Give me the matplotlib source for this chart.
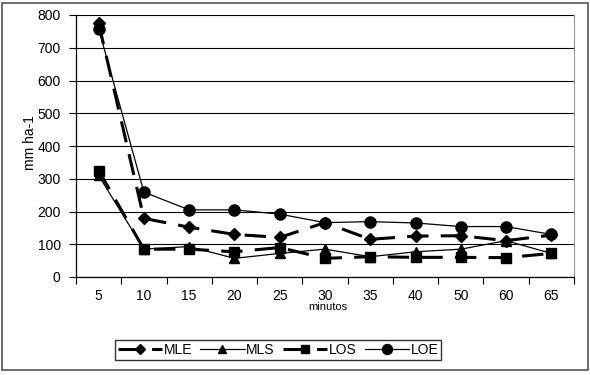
import matplotlib
matplotlib.use("Agg")
import matplotlib.pyplot as plt
from matplotlib.patches import Rectangle

categories = ["5", "10", "15", "20", "25", "30", "35", "40", "50", "60", "65"]
MLE = [775, 179, 152, 130, 121, 166, 115, 125, 126, 111, 128]
MLS = [310, 85, 93, 57, 72, 85, 62, 77, 85, 111, 72]
LOS = [325, 85, 85, 77, 90, 57, 62, 60, 60, 59, 72]
LOE = [758, 259, 205, 205, 192, 166, 169, 165, 154, 154, 130]

plt.rcParams['font.family'] = ['Liberation Sans', 'DejaVu Sans']

fig = plt.figure(figsize=(5.9, 3.75), dpi=100)
ax = fig.add_axes([76/590, 1-277/375, (574-76)/590, (277-15)/375])

x = list(range(len(categories)))
ax.plot(x, MLE, color='black', lw=2.2, dashes=(7, 4), marker='D', ms=6, label='MLE')
ax.plot(x, MLS, color='black', lw=0.9, marker='^', ms=7, label='MLS')
ax.plot(x, LOS, color='black', lw=2.2, dashes=(7, 4), marker='s', ms=7, label='LOS')
ax.plot(x, LOE, color='black', lw=0.9, marker='o', ms=8, label='LOE')

ax.set_xlim(-0.5, len(categories) - 0.5)
ax.set_ylim(0, 800)
ax.set_yticks(range(0, 801, 100))
ax.yaxis.grid(True, color='black', lw=0.8)
ax.set_axisbelow(True)

ax.set_xticks([i - 0.5 for i in range(len(categories) + 1)])
ax.set_xticklabels([])
ax.set_xticks(x, minor=True)
ax.set_xticklabels(categories, minor=True)
ax.tick_params(axis='x', which='major', direction='out', length=5, width=0.8)
ax.tick_params(axis='x', which='minor', length=0, pad=9, labelsize=10)
ax.tick_params(axis='y', direction='out', length=5, width=0.8, labelsize=10, pad=6)

ax.spines['top'].set_visible(False)
ax.spines['right'].set_color('#999999')
ax.spines['left'].set_linewidth(0.9)
ax.spines['bottom'].set_linewidth(0.9)

fig.text(30/590, 1-143/375, 'mm ha-1', fontsize=10, rotation=90, ha='center', va='center')
fig.text(328/590, 1-307/375, 'minutos', fontsize=8, ha='center', va='center')

leg = fig.legend(loc='center', bbox_to_anchor=(278/590, 1-350/375), ncol=4,
                 frameon=True, fancybox=False, edgecolor='black', fontsize=10,
                 handlelength=3.2, handletextpad=0.1, columnspacing=0.6,
                 borderpad=0.2, markerscale=0.9)
leg.get_frame().set_linewidth(1.0)

fig.patches.append(Rectangle((2/590, 1-370/375), 586/590, 367/375, transform=fig.transFigure,
                             fill=False, edgecolor='#555555', lw=1.2))

fig.savefig('out.png', dpi=100)
